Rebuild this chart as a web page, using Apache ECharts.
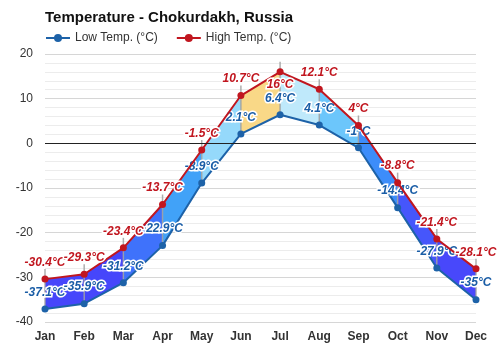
<!DOCTYPE html>
<html><head><meta charset="utf-8">
<script src="https://cdn.jsdelivr.net/npm/echarts@6/dist/echarts.min.js"></script>
<style>html,body{margin:0;padding:0;background:#fff}#c{width:500px;height:350px}</style>
</head><body><div id="c"></div>
<script>
var months = ['Jan','Feb','Mar','Apr','May','Jun','Jul','Aug','Sep','Oct','Nov','Dec'];
var lowTemps = [-37.1, -35.9, -31.2, -22.9, -8.9, 2.1, 6.4, 4.1, -1, -14.4, -27.9, -35];
var highTemps = [-30.4, -29.3, -23.4, -13.7, -1.5, 10.7, 16, 12.1, 4, -8.8, -21.4, -28.1];
var yTicks = [-40, -30, -20, -10, 0, 10, 20];

// style: fill colour of the band between consecutive months
var segColors = ['#4646fb','#4646fb','#3f72fb','#41a2f8','#95d9fb','#f9d887','#bfe9fb','#6cc6fb','#3d8dfa','#4656fb','#4848fb'];

var bandData = [];
for (var i = 0; i < months.length - 1; i++) {
  bandData.push([i, lowTemps[i], highTemps[i], lowTemps[i+1], highTemps[i+1]]);
}
var stemData = months.map(function (m, i) { return [i, lowTemps[i], highTemps[i]]; });

function fmt(p) { return p.value + '°C'; }

var chart = echarts.init(document.getElementById('c'));
chart.setOption({
  animation: false,
  textStyle: { fontFamily: 'Liberation Sans, Arial, sans-serif' },
  title: {
    text: 'Temperature - Chokurdakh, Russia',
    left: 40, top: 5,
    textStyle: { fontSize: 15, fontWeight: 'bold', color: '#111' }
  },
  legend: {
    left: 40, top: 27,
    itemWidth: 24, itemHeight: 10, itemGap: 18,
    textStyle: { fontSize: 12, color: '#333' },
    data: ['Low Temp. (°C)', 'High Temp. (°C)']
  },
  grid: { left: 45, right: 24, top: 54, bottom: 28, containLabel: false },
  xAxis: {
    type: 'category', data: months, boundaryGap: false,
    axisLine: { show: false }, axisTick: { show: false },
    axisLabel: { fontSize: 12, fontWeight: 'bold', color: '#333', margin: 9 },
    splitLine: { show: false }
  },
  yAxis: {
    type: 'value', min: yTicks[0], max: yTicks[yTicks.length - 1], interval: 10,
    axisLine: { show: false }, axisTick: { show: false },
    axisLabel: { fontSize: 12, color: '#333', margin: 12 },
    splitLine: { lineStyle: { color: '#d6d6d6', width: 1 } },
    minorTick: { show: false, splitNumber: 5 },
    minorSplitLine: { show: true, lineStyle: { color: '#ececec', width: 1 } }
  },
  series: [
    {
      type: 'custom', name: 'band', silent: true, z: 1,
      data: bandData,
      renderItem: function (params, api) {
        var i = api.value(0);
        var a = api.coord([i, api.value(1)]);
        var b = api.coord([i, api.value(2)]);
        var c = api.coord([i + 1, api.value(4)]);
        var d = api.coord([i + 1, api.value(3)]);
        return {
          type: 'polygon',
          shape: { points: [a, b, c, d] },
          style: { fill: segColors[params.dataIndex], stroke: null }
        };
      }
    },
    {
      type: 'custom', name: 'stems', silent: true, z: 2,
      data: stemData,
      renderItem: function (params, api) {
        var i = api.value(0);
        var a = api.coord([i, api.value(1)]);
        var b = api.coord([i, api.value(2)]);
        return {
          type: 'line',
          shape: { x1: a[0], y1: a[1], x2: b[0], y2: b[1] - 10 },
          style: { stroke: 'rgba(160,160,160,0.85)', lineWidth: 1.5 }
        };
      }
    },
    {
      type: 'line', name: 'Low Temp. (°C)', z: 3,
      data: lowTemps,
      color: '#1d62a8',
      symbol: 'circle', symbolSize: 7,
      lineStyle: { width: 2, color: '#1d62a8' },
      itemStyle: { color: '#1d62a8' },
      label: {
        show: true, position: 'top', distance: 7, formatter: fmt,
        fontSize: 12, fontWeight: 'bold', fontStyle: 'italic', color: '#1a5da6',
        textBorderColor: '#fff', textBorderWidth: 3
      }
    },
    {
      type: 'line', name: 'High Temp. (°C)', z: 4,
      data: highTemps.map(function (v, i) {
        return i === 6 ? { value: v, label: { position: 'bottom', distance: 3 } } : v;
      }),
      color: '#c1161f',
      symbol: 'circle', symbolSize: 7,
      lineStyle: { width: 2, color: '#c1161f' },
      itemStyle: { color: '#c1161f' },
      label: {
        show: true, position: 'top', distance: 7, formatter: fmt,
        fontSize: 12, fontWeight: 'bold', fontStyle: 'italic', color: '#c1161f',
        textBorderColor: '#fff', textBorderWidth: 3
      },
      markLine: {
        silent: true, symbol: 'none', label: { show: false },
        lineStyle: { color: '#222', width: 1, type: 'solid' },
        data: [{ yAxis: 0 }]
      }
    }
  ]
});
</script></body></html>
